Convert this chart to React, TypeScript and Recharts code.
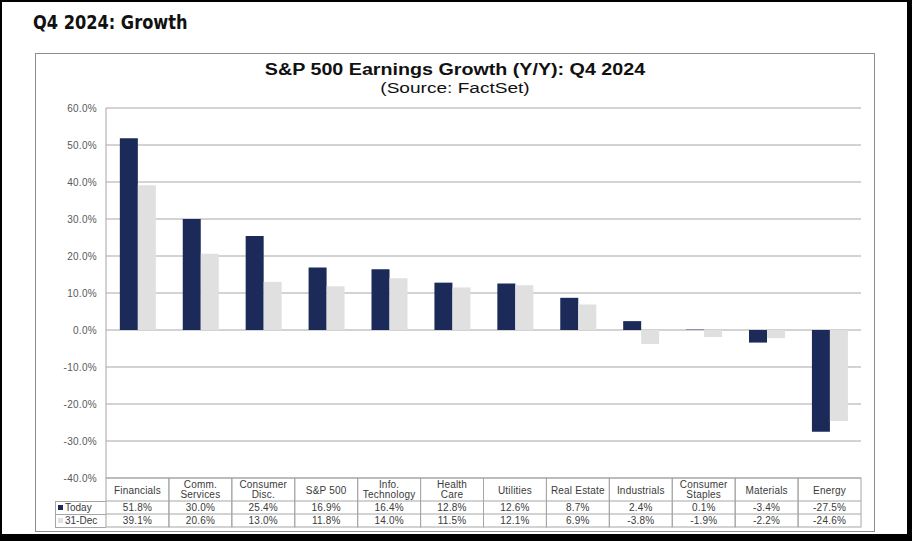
import { Bar, BarChart, CartesianGrid, XAxis, YAxis } from 'recharts';

const categories = [
  'Financials',
  'Comm.\nServices',
  'Consumer\nDisc.',
  'S&P 500',
  'Info.\nTechnology',
  'Health\nCare',
  'Utilities',
  'Real Estate',
  'Industrials',
  'Consumer\nStaples',
  'Materials',
  'Energy',
];
const todayValues = [51.8, 30.0, 25.4, 16.9, 16.4, 12.8, 12.6, 8.7, 2.4, 0.1, -3.4, -27.5];
const dec31Values = [39.1, 20.6, 13.0, 11.8, 14.0, 11.5, 12.1, 6.9, -3.8, -1.9, -2.2, -24.6];
const yTicks = [-40, -30, -20, -10, 0, 10, 20, 30, 40, 50, 60];

const NAVY = '#1b2a58';
const LIGHT = '#e0e0e0';
const LINE = '#a6a6a6';
const FONT = '"Liberation Sans", Arial, sans-serif';

const W = 912;
const H = 541;
const PLOT_LEFT = 106;
const PLOT_RIGHT = 861;
const BAND = (PLOT_RIGHT - PLOT_LEFT) / categories.length;

const data = categories.map((name, i) => ({
  name,
  today: todayValues[i],
  dec31: dec31Values[i],
}));

const pct = (v: number) => `${v.toFixed(1)}%`;

function TableTick(props: any) {
  const { x, y, payload } = props;
  const i = payload.index;
  const lines = String(payload.value).split('\n');
  const left = x - BAND / 2;
  const headH = 23;
  const rowH = 13;
  const txt = { textAnchor: 'middle' as const, fontSize: 10, fontFamily: FONT, fill: '#3a3a3a', letterSpacing: 0.2 };
  return (
    <g>
      <rect x={left} y={y} width={BAND} height={headH + rowH * 2} fill="none" stroke={LINE} strokeWidth={1} />
      <line x1={left} x2={left + BAND} y1={y + headH} y2={y + headH} stroke={LINE} />
      <line x1={left} x2={left + BAND} y1={y + headH + rowH} y2={y + headH + rowH} stroke={LINE} />
      {lines.map((ln, k) => (
        <text key={k} x={x} y={y + (lines.length === 1 ? 15.5 : 10 + k * 10)} {...txt}>
          {ln}
        </text>
      ))}
      <text x={x} y={y + headH + 10} {...txt}>
        {pct(todayValues[i])}
      </text>
      <text x={x} y={y + headH + rowH + 10} {...txt}>
        {pct(dec31Values[i])}
      </text>
    </g>
  );
}

export default function App() {
  return (
    <div style={{ position: 'absolute', left: 0, top: 0, width: W, height: H, background: '#000' }}>
      <div style={{ position: 'absolute', left: 2, top: 2, width: 905, height: 532, background: '#fff' }} />
      <div
        style={{
          position: 'absolute',
          left: 33,
          top: 10,
          fontFamily: '"DejaVu Sans Condensed", "DejaVu Sans", sans-serif',
          fontStretch: 'condensed',
          fontWeight: 700,
          fontSize: 20,
          lineHeight: '24px',
          color: '#111',
          transform: 'scaleX(0.9)',
          transformOrigin: 'left',
          whiteSpace: 'nowrap',
        }}
      >
        Q4 2024: Growth
      </div>
      <div
        style={{
          position: 'absolute',
          left: 35,
          top: 53,
          width: 838,
          height: 477,
          border: '1px solid #8c8c8c',
        }}
      />
      <div
        style={{
          position: 'absolute',
          left: 35,
          width: 840,
          top: 60,
          textAlign: 'center',
          fontFamily: FONT,
          color: '#111',
          transform: 'scaleX(1.23)',
          transformOrigin: '420px 0',
        }}
      >
        <div style={{ fontWeight: 700, fontSize: 16, lineHeight: '19px' }}>
          S&amp;P 500 Earnings Growth (Y/Y): Q4 2024
        </div>
        <div style={{ fontSize: 15.5, lineHeight: '18px' }}>(Source: FactSet)</div>
      </div>
      <div style={{ position: 'absolute', left: 0, top: 0 }}>
        <BarChart
          width={W}
          height={H}
          data={data}
          margin={{ top: 108, right: W - PLOT_RIGHT, bottom: 14, left: 46 }}
          barCategoryGap="22%"
          barGap={0}
        >
          <CartesianGrid vertical={false} stroke="#c4c4c4" strokeWidth={1.5} />
          <XAxis
            dataKey="name"
            height={49}
            axisLine={false}
            tickLine={false}
            tickSize={0}
            tickMargin={0}
            interval={0}
            tick={<TableTick />}
          />
          <YAxis
            width={60}
            domain={[-40, 60]}
            ticks={yTicks}
            tickFormatter={(v: number) => pct(v)}
            axisLine={{ stroke: LINE, strokeWidth: 1 }}
            tickLine={false}
            tickSize={0}
            tickMargin={9}
            tick={{ fontSize: 10, fontFamily: FONT, fill: '#595959', letterSpacing: 0.3 }}
          />
          <Bar dataKey="today" fill={NAVY} isAnimationActive={false} />
          <Bar dataKey="dec31" fill={LIGHT} isAnimationActive={false} />
        </BarChart>
      </div>
      <div
        style={{
          position: 'absolute',
          left: 55,
          top: 501,
          width: 50,
          height: 25,
          border: `1px solid ${LINE}`,
          borderRight: 'none',
          fontFamily: FONT,
          fontSize: 10,
          color: '#3a3a3a',
          whiteSpace: 'nowrap',
        }}
      >
        <div style={{ height: 12, lineHeight: '12px', borderBottom: `1px solid ${LINE}`, paddingLeft: 2 }}>
          <span style={{ display: 'inline-block', width: 5, height: 5, background: NAVY, marginRight: 2, verticalAlign: 1 }} />
          Today
        </div>
        <div style={{ height: 12, lineHeight: '12px', paddingLeft: 2 }}>
          <span style={{ display: 'inline-block', width: 5, height: 5, background: LIGHT, marginRight: 2, verticalAlign: 1 }} />
          31-Dec
        </div>
      </div>
    </div>
  );
}
